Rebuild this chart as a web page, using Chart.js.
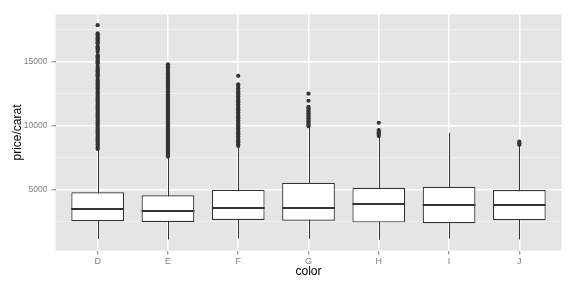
<!DOCTYPE html>
<html>
<head>
<meta charset="utf-8">
<script src="https://cdn.jsdelivr.net/npm/chart.js@4/dist/chart.umd.min.js"></script>
<style>
  html, body { margin: 0; background: #fff; }
  #wrap { width: 576px; height: 288px; }
</style>
</head>
<body>
<div id="wrap"><canvas id="myChart"></canvas></div>
<script>
// diamonds: price/carat by color
const colors = ['D', 'E', 'F', 'G', 'H', 'I', 'J'];
const lowWhisker  = [1128, 1078, 1168, 1139, 1051, 1152, 1081];
const q1          = [2500, 2445, 2602, 2547, 2420, 2344, 2578];
const median      = [3437, 3281, 3516, 3516, 3852, 3800, 3773];
const q3          = [4766, 4531, 4969, 5516, 5125, 5203, 4945];
const highWhisker = [8150, 7540, 8370, 9880, 9150, 9420, 8440];

const outD = [17828,
  17190, 17100, 17000, 16900, 16800, 16700, 16600, 16500, 16410,
  16200, 16100, 16000, 15900, 15750,
  15490, 15400, 15300, 15200, 15100, 15000, 14900, 14840,
  14630, 14500, 14400, 14300, 14200, 14100, 14000, 13900, 13800,
  13620, 13500, 13400, 13300, 13200, 13100, 13000, 12900, 12760,
  12630, 12500, 12375, 12250, 12125, 12000, 11875, 11750, 11625, 11500, 11375, 11250,
  11125, 11000, 10875, 10750, 10625, 10500, 10375, 10250, 10125, 10000, 9875, 9750,
  9625, 9500, 9375, 9250, 9125, 9000, 8875, 8750, 8625, 8500, 8375, 8250, 8150];
const outE = [14770, 14650, 14530, 14400, 14280, 14160,
  14050, 13950, 13850, 13780,
  13670, 13545, 13420, 13295, 13170, 13045, 12920, 12795, 12670, 12545, 12420, 12295,
  12170, 12045, 11920, 11795, 11670, 11545, 11420, 11295, 11170, 11045, 10920, 10795,
  10670, 10545, 10420, 10295, 10170, 10045, 9920, 9795, 9670, 9545, 9420, 9295, 9170,
  9045, 8920, 8795, 8670, 8545, 8420, 8295, 8170, 8045, 7920, 7795, 7670, 7560];
const outF = [13870, 13200, 13080,
  12890, 12765, 12640, 12515, 12390, 12265, 12140, 12015, 11890, 11765, 11640, 11515,
  11390, 11265, 11140, 11015, 10890, 10765, 10640, 10515, 10390, 10265, 10140, 10015,
  9890, 9765, 9640, 9515, 9390, 9265, 9140, 9015, 8890, 8765, 8640, 8515, 8390];
const outG = [12470, 11920, 11450, 11330,
  11180, 11060, 10935, 10810, 10685, 10560, 10435, 10310, 10185, 10060, 9935];
const outH = [10200, 9630, 9505, 9380, 9255, 9160];
const outI = [];
const outJ = [8720, 8600, 8480];
const outliers = [outD, outE, outF, outG, outH, outI, outJ];

const yTicks = [2500, 5000, 7500, 10000, 12500, 15000, 17500];
const yLabels = [5000, 10000, 15000];

const boxData = colors.map((c, i) => ({ x: i, y: [q1[i], q3[i]] }));
const outlierData = [];
outliers.forEach((list, i) => list.forEach(v => outlierData.push({ x: i, y: v })));

// panel background, whiskers behind the boxes, median line on top of them
const boxParts = {
  id: 'boxParts',
  beforeDraw(chart) {
    const { ctx, chartArea } = chart;
    ctx.save();
    ctx.fillStyle = '#E5E5E5';
    ctx.fillRect(chartArea.left, chartArea.top, chartArea.right - chartArea.left, chartArea.bottom - chartArea.top);
    ctx.restore();
  },
  beforeDatasetsDraw(chart) {
    const { ctx } = chart;
    const x = chart.scales.x, y = chart.scales.y;
    ctx.save();
    ctx.strokeStyle = '#333333';
    ctx.lineWidth = 1;
    colors.forEach((c, i) => {
      const px = Math.round(x.getPixelForValue(i)) + 0.5;
      ctx.beginPath();
      ctx.moveTo(px, y.getPixelForValue(lowWhisker[i]));
      ctx.lineTo(px, y.getPixelForValue(highWhisker[i]));
      ctx.stroke();
    });
    ctx.restore();
  },
  afterDatasetDraw(chart, args) {
    if (args.index !== 0) return;
    const { ctx } = chart;
    const y = chart.scales.y;
    ctx.save();
    ctx.strokeStyle = '#333333';
    ctx.lineWidth = 2;
    chart.getDatasetMeta(0).data.forEach((bar, i) => {
      const py = Math.round(y.getPixelForValue(median[i]));
      ctx.beginPath();
      ctx.moveTo(bar.x - bar.width / 2, py);
      ctx.lineTo(bar.x + bar.width / 2, py);
      ctx.stroke();
    });
    ctx.restore();
  }
};

new Chart(document.getElementById('myChart'), {
  type: 'bar',
  data: {
    datasets: [{
      type: 'bar',
      data: boxData,
      backgroundColor: '#ffffff',
      borderColor: '#333333',
      borderWidth: 1.2,
      borderSkipped: false,
      categoryPercentage: 1,
      barPercentage: 0.75,
      order: 2
    }, {
      type: 'scatter',
      data: outlierData,
      pointRadius: 2.1,
      pointBackgroundColor: '#333333',
      pointBorderWidth: 0,
      order: 1
    }]
  },
  options: {
    responsive: true,
    maintainAspectRatio: false,
    animation: false,
    layout: { padding: { left: 0, right: 14.5, top: 14.4, bottom: 0 } },
    plugins: { legend: { display: false }, tooltip: { enabled: false } },
    scales: {
      x: {
        type: 'linear',
        min: -0.6,
        max: 6.6,
        offset: false,
        afterBuildTicks: axis => { axis.ticks = colors.map((c, i) => ({ value: i })); },
        afterFit: axis => { axis.height = 37.4; },
        border: { display: false },
        grid: { offset: false, color: '#ffffff', lineWidth: 1.5, tickColor: '#7F7F7F', tickWidth: 1, tickLength: 4 },
        ticks: {
          autoSkip: false,
          maxRotation: 0,
          padding: 2,
          color: '#7F7F7F',
          font: { family: 'Liberation Sans, Arial, sans-serif', size: 9 },
          callback: v => colors[v]
        },
        title: {
          display: true,
          text: 'color',
          color: '#000000',
          font: { family: 'Liberation Sans, Arial, sans-serif', size: 12 },
          padding: { top: 0, bottom: 9.5 }
        }
      },
      y: {
        min: 212,
        max: 18667,
        afterBuildTicks: axis => { axis.ticks = yTicks.map(v => ({ value: v })); },
        afterFit: axis => { axis.width = 55.5; },
        border: { display: false },
        grid: {
          color: ctx => yLabels.includes(ctx.tick.value) ? '#ffffff' : '#F2F2F2',
          lineWidth: ctx => yLabels.includes(ctx.tick.value) ? 1.5 : 0.8,
          tickColor: ctx => yLabels.includes(ctx.tick.value) ? '#7F7F7F' : 'rgba(0,0,0,0)',
          tickWidth: 1,
          tickLength: 4
        },
        ticks: {
          autoSkip: false,
          padding: 4,
          color: '#7F7F7F',
          font: { family: 'Liberation Sans, Arial, sans-serif', size: 8.5 },
          callback: v => yLabels.includes(v) ? String(v) : ''
        },
        title: {
          display: true,
          text: 'price/carat',
          color: '#000000',
          font: { family: 'Liberation Sans, Arial, sans-serif', size: 12 },
          padding: { top: 10.4, bottom: 0 }
        }
      }
    }
  },
  plugins: [boxParts]
});
</script>
</body>
</html>
